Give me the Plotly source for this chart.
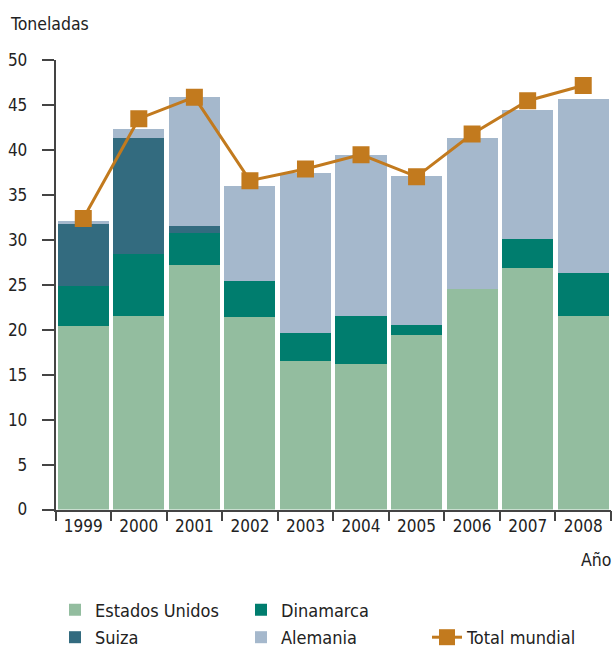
import plotly.graph_objects as go

years = ["1999", "2000", "2001", "2002", "2003", "2004", "2005", "2006", "2007", "2008"]
estados_unidos = [20.4, 21.5, 27.2, 21.4, 16.5, 16.2, 19.4, 24.5, 26.9, 21.5]
dinamarca = [4.5, 6.9, 3.6, 4.0, 3.2, 5.3, 1.1, 0.0, 3.2, 4.8]
suiza = [6.9, 12.9, 0.8, 0.0, 0.0, 0.0, 0.0, 0.0, 0.0, 0.0]
alemania = [0.3, 1.0, 14.3, 10.6, 17.8, 18.0, 16.6, 16.8, 14.4, 19.4]
total_mundial = [32.4, 43.5, 45.9, 36.6, 37.9, 39.5, 37.05, 41.8, 45.5, 47.2]
y_ticks = [0, 5, 10, 15, 20, 25, 30, 35, 40, 45, 50]

FONT = "DejaVu Sans Condensed, Liberation Sans Narrow, sans-serif"
TXT = "#222222"
AX = "#444444"
W, H = 614, 656  # bottom few px fall outside the 650 px window (legend padding)


def fx(px):
    return px / W


def fy(py):
    return (H - py) / H


fig = go.Figure()
fig.add_trace(go.Bar(x=years, y=estados_unidos, name="Estados Unidos",
                     marker=dict(color="#93bd9f", line=dict(width=0)), legend="legend"))
fig.add_trace(go.Bar(x=years, y=dinamarca, name="Dinamarca",
                     marker=dict(color="#007d6e", line=dict(width=0)), legend="legend"))
fig.add_trace(go.Bar(x=years, y=suiza, name="Suiza",
                     marker=dict(color="#336b7f", line=dict(width=0)), legend="legend2"))
fig.add_trace(go.Bar(x=years, y=alemania, name="Alemania",
                     marker=dict(color="#a5b8cc", line=dict(width=0)), legend="legend2"))
fig.add_trace(go.Scatter(x=years, y=total_mundial, name="Total mundial", mode="lines+markers",
                         line=dict(color="#c27a1e", width=3),
                         marker=dict(symbol="square", size=17, color="#c27a1e"),
                         legend="legend2"))

fig.update_layout(
    width=W, height=H,
    margin=dict(l=0, r=0, t=0, b=0),
    barmode="stack", bargap=0.08,
    plot_bgcolor="white", paper_bgcolor="white",
    font=dict(family=FONT, size=17, color=TXT),
    xaxis=dict(type="category", range=[-0.5, 9.5], domain=[fx(55.5), fx(611)],
               showline=True, linecolor=AX, linewidth=1.5,
               ticks="outside", tickson="boundaries", ticklen=10, tickcolor=AX, tickwidth=1.5,
               showgrid=False, zeroline=False, automargin=False,
               tickfont=dict(size=17, color=TXT)),
    yaxis=dict(range=[0, 50], tickvals=y_ticks, domain=[fy(509.5), fy(60.3)],
               showline=True, linecolor=AX, linewidth=1.5,
               ticks="outside", ticklen=12, tickcolor=AX, tickwidth=1.5,
               ticklabelstandoff=11, automargin=False,
               showgrid=False, zeroline=False, tickfont=dict(size=17, color=TXT)),
    legend=dict(orientation="h", x=fx(55), xanchor="left", y=fy(610), yanchor="middle",
                entrywidth=141, entrywidthmode="pixels", traceorder="normal",
                font=dict(size=18, color=TXT), bgcolor="rgba(0,0,0,0)"),
    legend2=dict(orientation="h", x=fx(55), xanchor="left", y=0.0, yanchor="bottom",
                 entrywidth=141, entrywidthmode="pixels", traceorder="normal",
                 font=dict(size=18, color=TXT), bgcolor="rgba(0,0,0,0)"),
    annotations=[
        dict(text="Toneladas", xref="paper", yref="paper", x=fx(8), y=fy(24),
             xanchor="left", yanchor="middle", showarrow=False,
             font=dict(size=17.5, color=TXT)),
        dict(text="Año", xref="paper", yref="paper", x=fx(613), y=fy(560),
             xanchor="right", yanchor="middle", showarrow=False,
             font=dict(size=17.5, color=TXT)),
    ],
)

fig.write_html(
    "out.html",
    config={"displayModeBar": False},
    post_script=(
        "document.body.style.margin='0';"
        "document.body.style.overflow='hidden';"
        "document.documentElement.style.overflow='hidden';"
    ),
)
